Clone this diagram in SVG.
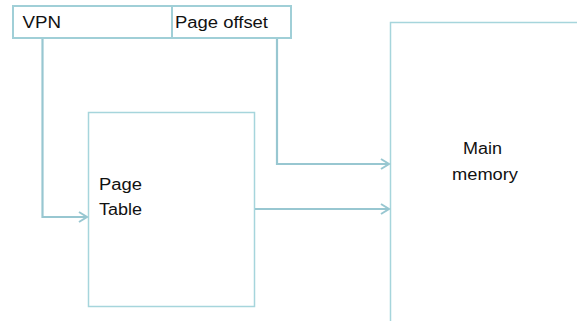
<svg xmlns="http://www.w3.org/2000/svg" width="577" height="321" viewBox="0 0 577 321">
<defs>
<style>
.box{fill:#ffffff;stroke:#a6d5dc;stroke-width:1.5}
.bar{fill:#ffffff;stroke:#a0cfd7;stroke-width:2}
.conn{fill:none;stroke:#98c7d1;stroke-width:2.2}
.lbl{font-family:"Liberation Sans",Arial,sans-serif;font-size:16px;fill:#111111}
</style>
<marker id="arr" markerWidth="12" markerHeight="12" refX="10" refY="6" orient="auto" markerUnits="userSpaceOnUse">
<path d="M2,1 L10,6 L2,11" fill="none" stroke="#98c7d1" stroke-width="2"/>
</marker>
</defs>
<g id="main-memory">
<path class="box" d="M390.5,321 L390.5,22.5 L577,22.5"/>
<text class="lbl" x="463" y="154" textLength="39" lengthAdjust="spacingAndGlyphs">Main</text>
<text class="lbl" x="452" y="180" textLength="66" lengthAdjust="spacingAndGlyphs">memory</text>
</g>
<g id="page-table">
<rect class="box" x="88.5" y="112.5" width="166" height="194"/>
<text class="lbl" x="99" y="190" textLength="43" lengthAdjust="spacingAndGlyphs">Page</text>
<text class="lbl" x="99" y="215" textLength="43" lengthAdjust="spacingAndGlyphs">Table</text>
</g>
<g id="address">
<rect class="bar" x="13" y="6" width="278" height="32"/>
<line class="bar" x1="172" y1="6" x2="172" y2="38"/>
<text class="lbl" x="22.5" y="28" textLength="38.5" lengthAdjust="spacingAndGlyphs">VPN</text>
<text class="lbl" x="175" y="28" textLength="93" lengthAdjust="spacingAndGlyphs">Page offset</text>
</g>
<g id="connectors">
<path class="conn" d="M42.5,39 L42.5,217 L87,217" marker-end="url(#arr)"/>
<path class="conn" d="M277,39 L277,164 L389,164" marker-end="url(#arr)"/>
<path class="conn" d="M255,209 L389,209" marker-end="url(#arr)"/>
</g>
</svg>
